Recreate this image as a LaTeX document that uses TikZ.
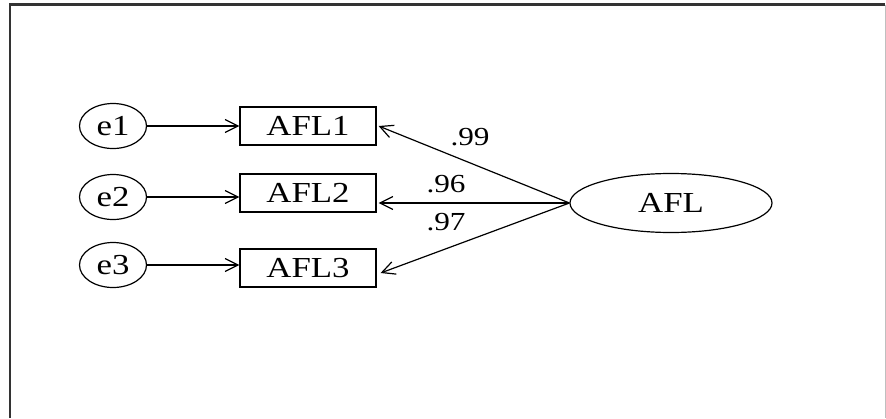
\documentclass[tikz,border=0pt]{standalone}
\usepackage{fontspec}
\setmainfont{Liberation Serif}[FakeStretch=1.2]
\usetikzlibrary{shapes.geometric,arrows.meta}

\begin{document}
\begin{tikzpicture}[x=1pt,y=-1pt,
  lbl/.style={font=\fontsize{29}{29}\selectfont},
  errvar/.style={ellipse,draw,line width=1.2pt,minimum width=67pt,minimum height=45pt,inner sep=0pt,lbl},
  obsvar/.style={rectangle,draw,line width=1.2pt,minimum width=136pt,minimum height=38pt,inner sep=0pt,lbl},
  latvar/.style={ellipse,draw,line width=1.2pt,minimum width=202pt,minimum height=59pt,inner sep=0pt,lbl},
  regpath/.style={line width=1.2pt,-{Straight Barb[length=13pt,width=13pt,line width=1.2pt]}},
  coef/.style={font=\fontsize{26}{26}\selectfont,inner sep=0pt}]
\useasboundingbox (0,0) rectangle (886,418);

% panel frame (no bottom edge)
\draw[line width=2.2pt,black!80] (10,418) -- (10,4.5) -- (885,4.5);
\draw[line width=1pt,black!25] (885,4.5) -- (885,418);

% error terms
\node[errvar] (e1) at (113,126) {e1};
\node[errvar] (e2) at (113,197) {e2};
\node[errvar] (e3) at (113,265) {e3};

% observed indicators
\node[obsvar] (x1) at (308,126) {AFL1};
\node[obsvar] (x2) at (308,193) {AFL2};
\node[obsvar] (x3) at (308,268) {AFL3};

% latent factor
\node[latvar] (f) at (671,203) {AFL};

% error paths
\draw[regpath] (e1.east) -- (x1.west |- e1.east);
\draw[regpath] (e2.east) -- (x2.west |- e2.east);
\draw[regpath] (e3.east) -- (x3.west |- e3.east);

% loadings
\draw[regpath] (f.west) -- ([xshift=2pt]x1.east);
\draw[regpath] (f.west) -- ([xshift=2pt]x2.east |- f.west);
\draw[regpath] (f.west) -- ([xshift=4pt,yshift=-5pt]x3.east);

\node[coef] (l1) at (470,137) {.99};
\node[coef] (l2) at (446,184) {.96};
\node[coef] (l3) at (446,222) {.97};
\end{tikzpicture}
\end{document}
